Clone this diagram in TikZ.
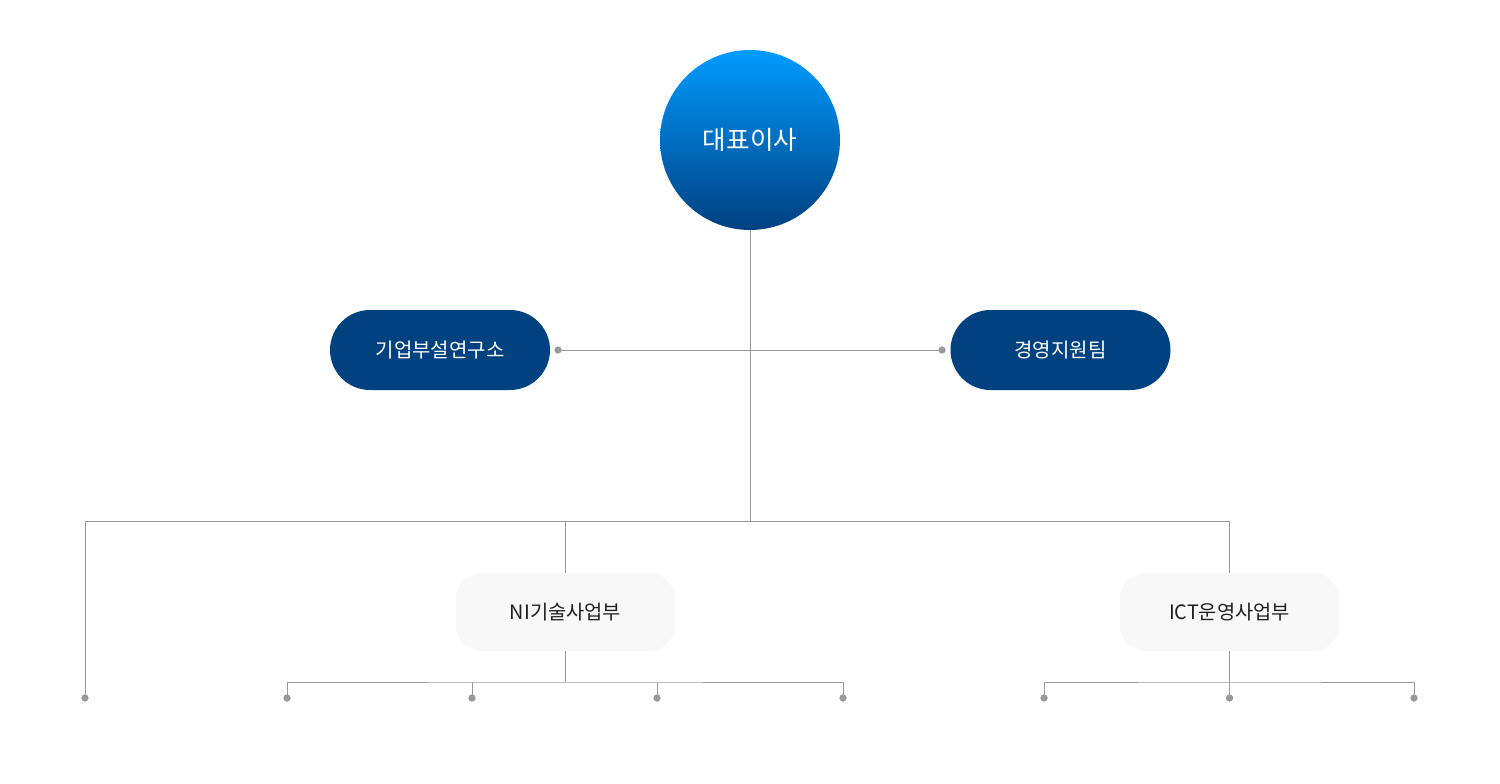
\documentclass[tikz,border=0pt]{standalone}
\usepackage{fontspec}
\newfontfamily\kr{Noto Sans CJK KR}
\definecolor{navy}{RGB}{0,65,128}
\definecolor{gtop}{RGB}{0,156,255}
\definecolor{gbot}{RGB}{0,64,128}
\definecolor{lnc}{RGB}{153,153,153}
\definecolor{boxc}{RGB}{248,248,248}
\begin{document}
\begin{tikzpicture}[x=1pt,y=-1pt,
  ln/.style={draw=lnc,line width=1pt},
  dotc/.style={circle,fill=lnc,inner sep=0pt,minimum size=7pt},
  pill/.style={rounded corners=40pt,fill=navy,minimum width=220pt,minimum height=80pt,inner sep=0pt,text=white,font=\kr\fontsize{20}{22}\selectfont},
  lbox/.style={rounded corners=26pt,fill=boxc,minimum width=219pt,minimum height=78pt,inner sep=0pt,text=black!88,font=\kr\fontsize{19.8}{22}\selectfont}]
\useasboundingbox (0,0) rectangle (1500,784);
\fill[white] (0,0) rectangle (1500,784);
\node[circle,minimum size=180pt,inner sep=0pt,top color=gtop,bottom color=gbot,text=white,font=\kr\fontsize{25.6}{28}\selectfont] (ceo) at (750,140) {대표이사};
\node[pill] (lab) at (440,350) {기업부설연구소};
\node[pill] (mgmt) at (1060.5,350) {경영지원팀};
\node[lbox] (ni) at (565.5,612) {NI기술사업부};
\node[lbox] (ict) at (1229.5,612) {ICT운영사업부};
\node[dotc] (dl) at (558,350) {};
\node[dotc] (dr) at (942,350) {};
\coordinate (hub) at (750,521);
\coordinate (cl) at (85,521);
\coordinate (cr) at (1229.5,521);
\coordinate (cn) at (565.5,521);
\node[dotc] (d0) at (85,698) {};
\foreach \i/\x in {1/287,2/472,3/657,4/843} \node[dotc] (n\i) at (\x,698) {};
\foreach \i/\x in {1/1044,2/1229.5,3/1414} \node[dotc] (c\i) at (\x,698) {};
\coordinate (nh) at (565.5,682);
\coordinate (ch) at (1229.5,682);
\draw[ln] (ceo.south) -- (hub);
\draw[ln] (dl.center) -- (dr.center);
\draw[ln] (cl) -- (cr);
\draw[ln] (cl) -- (d0.center);
\draw[ln] (cn) -- (ni.north);
\draw[ln] (cr) -- (ict.north);
\draw[ln] (ni.south) -- (nh);
\draw[ln] (ict.south) -- (ch);
\draw[ln] (n1.center) |- (nh) -| (n4.center);
\draw[ln] (n2.center) -- (n2 |- nh);
\draw[ln] (n3.center) -- (n3 |- nh);
\draw[ln] (c1.center) |- (ch) -| (c3.center);
\draw[ln] (c2.center) -- (ch);
\foreach \n in {dl,dr,d0,n1,n2,n3,n4,c1,c2,c3} \fill[lnc] (\n) circle (3.5pt);
\end{tikzpicture}
\end{document}
